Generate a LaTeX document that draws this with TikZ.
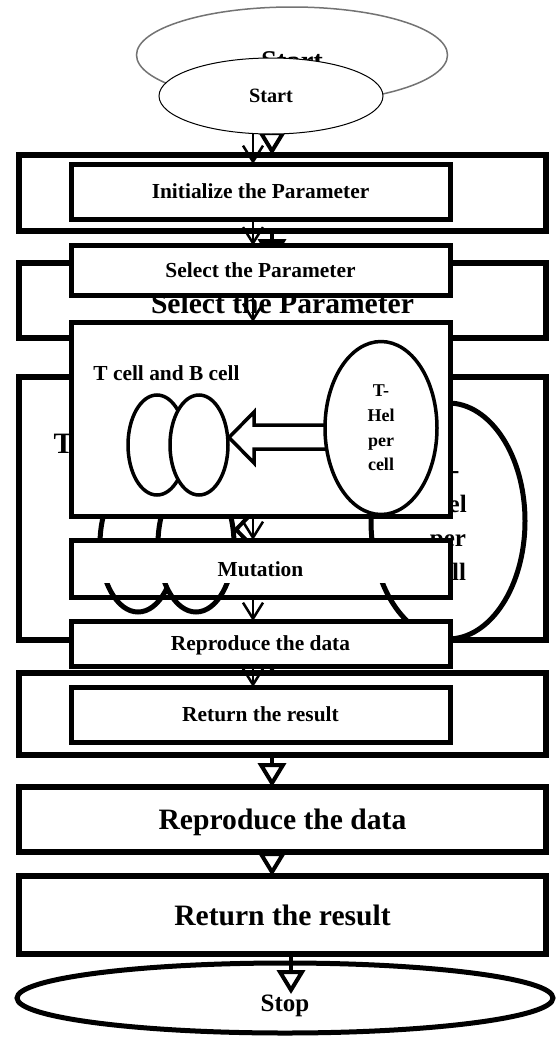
\documentclass[tikz,border=0pt]{standalone}
\usepackage{fontspec}
\setmainfont{Liberation Serif}
\usetikzlibrary{positioning}
\usetikzlibrary{calc}
\usetikzlibrary{arrows.meta}
\usetikzlibrary{shapes.geometric}

\newcommand{\backtext}{\fontsize{29.6}{34}\selectfont\bfseries}
\newcommand{\fronttext}{\fontsize{21.4}{25}\selectfont\bfseries}

\begin{document}
\begin{tikzpicture}[x=1pt, y=-1pt,
    backbox/.style={draw, rectangle, line width=6pt, minimum width=527pt, inner sep=0pt, outer sep=0pt, text depth=0pt, font=\backtext},
    frontbox/.style={draw, rectangle, fill=white, line width=5pt, minimum width=379pt, inner sep=0pt, outer sep=0pt, text depth=0pt, font=\fronttext},
    cellshape/.style={draw, ellipse, fill=white, inner sep=0pt, outer sep=0pt},
    backflow/.style={-{Triangle[open, length=24pt, width=28pt]}, line width=4pt},
    frontflow/.style={-{Straight Barb[length=16pt, width=20pt]}, line width=2.5pt}]

    \useasboundingbox (0,0) rectangle (556,1039);

    \coordinate (axisb) at (272,0);
    \coordinate (axisf) at (253,0);
    \coordinate (axisstop) at (291,0);

    % enlarged chart underneath
    \node[cellshape, draw=black!55, line width=1.5pt, minimum width=311pt, minimum height=96pt, text height=31pt, font=\fontsize{28.6}{34}\selectfont\bfseries] (startb) at (292,55) {Start};
    \node[backbox, minimum height=76pt] (initb) at (282.5,193) {};
    \node[backbox, minimum height=75pt, text height=26pt] (selectb) at (282.5,300.5) {Select the Parameter};
    \node[backbox, minimum height=263pt] (cellb) at (282.5,508.5) {};
    \node[backbox, minimum height=82pt] (mutb) at (282.5,714) {};
    \node[backbox, minimum height=65pt] (reprob) at (282.5,819.5) {Reproduce the data};
    \node[backbox, minimum height=78pt] (retb) at (282.5,915) {Return the result};
    \node[cellshape, line width=5pt, minimum width=536pt, minimum height=70pt, text height=33pt, font=\fontsize{25}{30}\selectfont\bfseries] (stopb) at (285,998) {Stop};

    \node[font=\backtext, anchor=west] (cellbtitle) at (50,443) {T cell and B cell};
    \node[cellshape, line width=5pt, minimum width=76pt, minimum height=136pt] (cellbA) at (138,544) {};
    \node[cellshape, line width=5pt, minimum width=76pt, minimum height=136pt] (cellbB) at (196,544) {};
    \node[cellshape, line width=5pt, minimum width=154pt, minimum height=236pt, align=center, font=\fontsize{25}{34}\selectfont\bfseries] (helperb) at (448,521) {T-\\Hel\\per\\cell};
    \coordinate (tipb) at (236,529.5);
    \draw[line width=4pt] (helperb.west |- 0,513) -| (270,494.5) -- (tipb) -- (270,564.5) |- (helperb.west |- 0,546);

    \draw[backflow] (startb.south -| axisb) -- (initb.north -| axisb);
    \draw[backflow] (initb.south -| axisb) -- (selectb.north -| axisb);
    \draw[backflow] (selectb.south -| axisb) -- (cellb.north -| axisb);
    \draw[backflow] (cellb.south -| axisb) -- (mutb.north -| axisb);
    \draw[backflow] (mutb.south -| axisb) -- (reprob.north -| axisb);
    \draw[backflow] (reprob.south -| axisb) -- (retb.north -| axisb);
    \draw[backflow] (retb.south -| axisstop) -- ([yshift=-31pt]stopb.north -| axisstop);

    % smaller chart on top
    \node[cellshape, line width=1pt, minimum width=224pt, minimum height=76pt, font=\fontsize{20.3}{24}\selectfont\bfseries] (startf) at (271,96) {Start};
    \node[frontbox, minimum height=55pt] (initf) at (260.5,191.5) {Initialize the Parameter};
    \node[frontbox, minimum height=50pt, below=26.5pt of initf] (selectf) {Select the Parameter};
    \node[frontbox, minimum height=194pt, below=26.5pt of selectf] (cellf) {};
    \node[frontbox, fill=none, minimum height=57.5pt, below=24pt of cellf,
        path picture={\fill[white] (path picture bounding box.north west) rectangle ([yshift=14.5pt]path picture bounding box.south east);}] (mutf) {Mutation};
    \node[frontbox, minimum height=45pt, below=23.5pt of mutf] (reprof) {Reproduce the data};
    \node[frontbox, minimum height=55pt, below=21pt of reprof] (retf) {Return the result};

    \node[font=\fronttext] (cellftitle) at (166.5,373) {T cell and B cell};
    \node[cellshape, line width=3.5pt, minimum width=58pt, minimum height=100pt] (cellfA) at (157,445) {};
    \node[cellshape, line width=3.5pt, minimum width=58pt, minimum height=100pt] (cellfB) at (199,445) {};
    \node[cellshape, line width=3.5pt, minimum width=112pt, minimum height=173pt, align=center, font=\fontsize{18}{24.7}\selectfont\bfseries] (helperf) at (381,428) {T-\\Hel\\per\\cell};
    \coordinate (tipf) at (229,437.5);
    \draw[line width=3.5pt] (helperf.west |- 0,425) -| (254,412) -- (tipf) -- (254,463) |- (helperf.west |- 0,449);

    \draw[frontflow] (startf.south -| axisf) -- (initf.north -| axisf);
    \draw[frontflow] (initf.south -| axisf) -- (selectf.north -| axisf);
    \draw[frontflow] (selectf.south -| axisf) -- (cellf.north -| axisf);
    \draw[frontflow] (cellf.south -| axisf) -- (mutf.north -| axisf);
    \draw[frontflow] (mutf.south -| axisf) -- (reprof.north -| axisf);
    \draw[frontflow] (reprof.south -| axisf) -- (retf.north -| axisf);

\end{tikzpicture}
\end{document}
